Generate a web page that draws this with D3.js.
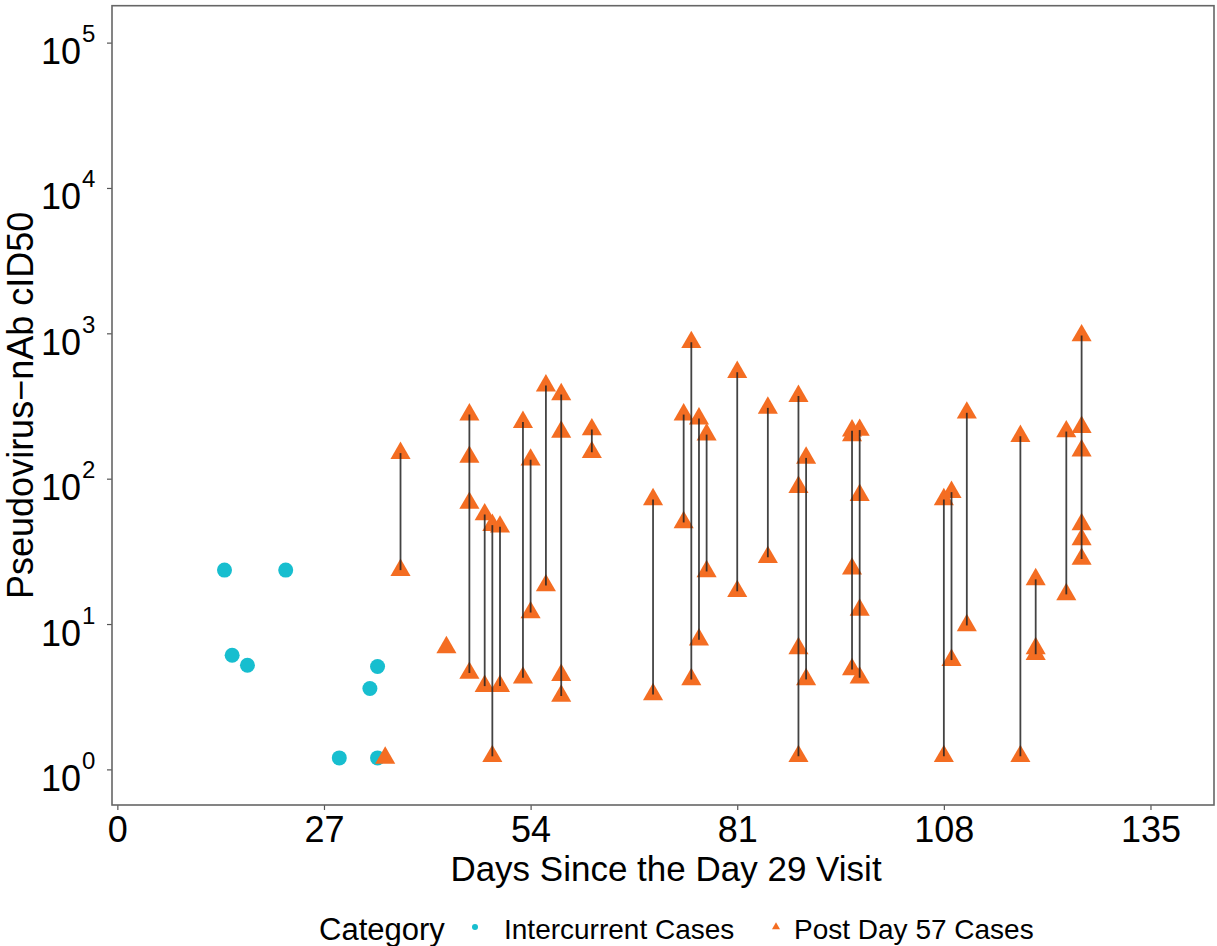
<!DOCTYPE html>
<html>
<head>
<meta charset="utf-8">
<script src="https://cdn.jsdelivr.net/npm/d3@7"></script>
<style>
  html, body { margin: 0; padding: 0; background: #fff; }
  text { font-family: "Liberation Sans", Arial, sans-serif; fill: #000; }
</style>
</head>
<body>
<svg id="chart" width="1217" height="946"></svg>
<script>
// Intercurrent cases: one titer per case
const intercurrentDays = [14, 22, 15, 17, 29, 34, 33, 34];
const intercurrentTiters = [23.5, 23.5, 6.1, 5.2, 1.2, 1.2, 3.6, 5.1];

// Post Day 57 cases: titers grouped by day (a segment joins each day's range)
const postDays = [35, 37, 43, 46, 48, 49, 50, 53, 54, 56, 58, 62, 70, 74, 75, 76, 77,
                  81, 85, 89, 90, 96, 97, 108, 109, 111, 118, 120, 124, 126];
const postTiters = [
  [1.2],
  [150, 23.5],
  [6.9],
  [276, 141, 68, 4.6],
  [56.7, 3.74],
  [47.9, 1.23],
  [46.7, 3.74],
  [245, 4.27],
  [135, 12.0],
  [437, 18.4],
  [380, 210, 4.45, 3.2],
  [218, 152],
  [72, 3.28],
  [276, 50],
  [868, 4.16],
  [259, 7.8],
  [201, 23],
  [540, 16.8],
  [307, 28.8],
  [370, 87.5, 6.8, 1.23],
  [139, 4.16],
  [214, 198, 24, 4.87],
  [216, 77, 12.5, 4.27],
  [72, 1.23],
  [80.8, 5.65],
  [284, 9.78],
  [196, 1.23],
  [20.3, 6.8, 6.2],
  [211, 16],
  [966, 226, 156, 48.5, 38.2, 28]
];

const xTicks = [0, 27, 54, 81, 108, 135];
const yTickExponents = [0, 1, 2, 3, 4, 5];

const colIntercurrent = "#17BECF";
const colPost = "#F46D22";

const svg = d3.select("#chart");
const panel = { left: 112, right: 1214, top: 5.7, bottom: 805 };

const x = d3.scaleLinear().domain([-0.7, 143.3]).range([panel.left, panel.right]);
const y = d3.scaleLog().domain([Math.pow(10, -0.245), Math.pow(10, 5.254)]).range([panel.bottom, panel.top]);

// x axis
const xAxis = svg.append("g")
  .attr("transform", `translate(0,${panel.bottom})`)
  .call(d3.axisBottom(x).tickValues(xTicks).tickSize(5).tickPadding(6));
xAxis.select(".domain").remove();
xAxis.selectAll(".tick line").attr("stroke", "#555").attr("stroke-width", 1.2);
xAxis.selectAll(".tick text")
  .style("font-size", "36px").attr("fill", "#000").attr("dy", "0.71em");

// y axis with power-of-ten labels
const yAxis = svg.append("g")
  .attr("transform", `translate(${panel.left},0)`)
  .call(d3.axisLeft(y).tickValues(yTickExponents.map(e => Math.pow(10, e))).tickSize(5).tickFormat(() => ""));
yAxis.select(".domain").remove();
yAxis.selectAll(".tick line").attr("stroke", "#555").attr("stroke-width", 1.2);
yAxis.selectAll(".tick").each(function(d) {
  const e = Math.round(Math.log10(d));
  const t = d3.select(this).select("text")
    .attr("x", -31).attr("dy", null).attr("y", 21)
    .attr("text-anchor", "end").style("font-size", "36px");
  t.text("10");
  d3.select(this).append("text")
    .attr("x", -30).attr("y", -1)
    .attr("text-anchor", "start")
    .style("font-size", "24px")
    .text(e);
});

// points: intercurrent circles
svg.append("g").selectAll("circle")
  .data(intercurrentDays.map((d, i) => ({ day: d, v: intercurrentTiters[i] })))
  .join("circle")
  .attr("cx", d => x(d.day))
  .attr("cy", d => y(d.v))
  .attr("r", 7.5)
  .attr("fill", colIntercurrent);

// points: post Day 57 triangles
const postPoints = [];
postDays.forEach((d, i) => postTiters[i].forEach(v => postPoints.push({ day: d, v })));
const tri = d3.symbol().type(d3.symbolTriangle).size(175);
svg.append("g").selectAll("path")
  .data(postPoints)
  .join("path")
  .attr("d", tri)
  .attr("transform", d => `translate(${x(d.day)},${y(d.v)})`)
  .attr("fill", colPost);

// segments joining each day's titers
svg.append("g").selectAll("line")
  .data(postDays.map((d, i) => ({ day: d, lo: d3.min(postTiters[i]), hi: d3.max(postTiters[i]) }))
        .filter(d => d.hi > d.lo))
  .join("line")
  .attr("x1", d => x(d.day)).attr("x2", d => x(d.day))
  .attr("y1", d => y(d.lo)).attr("y2", d => y(d.hi))
  .attr("stroke", "#222").attr("stroke-width", 1.8).attr("stroke-opacity", 0.85);

// panel border
svg.append("rect")
  .attr("x", panel.left).attr("y", panel.top)
  .attr("width", panel.right - panel.left).attr("height", panel.bottom - panel.top)
  .attr("fill", "none").attr("stroke", "#666").attr("stroke-width", 1.6);

// axis titles
svg.append("text")
  .attr("x", (panel.left + panel.right) / 2 + 3).attr("y", 881)
  .attr("text-anchor", "middle").style("font-size", "35px")
  .text("Days Since the Day 29 Visit");
svg.append("text")
  .attr("transform", `translate(33,${(panel.top + panel.bottom) / 2}) rotate(-90)`)
  .attr("text-anchor", "middle").style("font-size", "36px")
  .text("Pseudovirus\u2212nAb cID50");

// legend
const legend = svg.append("g");
legend.append("text").attr("x", 319).attr("y", 940).style("font-size", "31px").text("Category");
legend.append("circle").attr("cx", 475).attr("cy", 927).attr("r", 3).attr("fill", colIntercurrent);
legend.append("text").attr("x", 504).attr("y", 939).style("font-size", "28px").text("Intercurrent Cases");
legend.append("path").attr("d", d3.symbol().type(d3.symbolTriangle).size(28))
  .attr("transform", "translate(776,927)").attr("fill", colPost);
legend.append("text").attr("x", 794).attr("y", 939).style("font-size", "28px").text("Post Day 57 Cases");
</script>
</body>
</html>
